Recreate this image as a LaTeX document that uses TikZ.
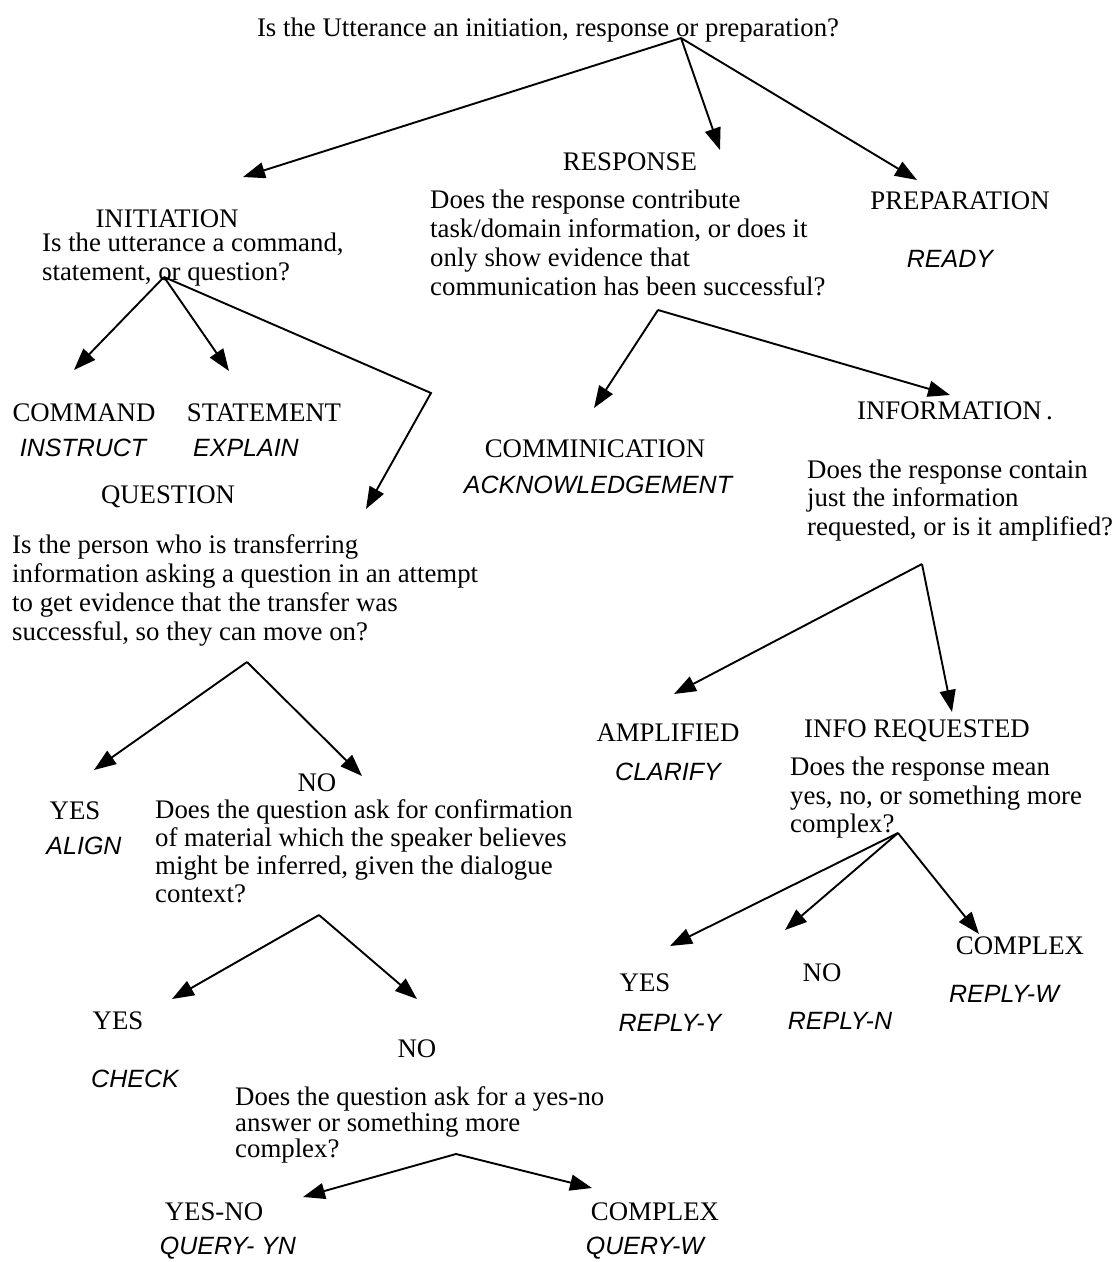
\documentclass[tikz,border=0pt]{standalone}
\usepackage{fontspec}
\setmainfont{Liberation Serif}
\setsansfont{Liberation Sans}
\usepackage{tikz}
\usetikzlibrary{positioning,arrows.meta}

\begin{document}
\begin{tikzpicture}[x=1pt,y=-1pt,>={Triangle[length=22pt,width=16pt]},
  every node/.style={inner sep=0pt},
  cat/.style={anchor=base,font=\fontsize{26.8}{28}\selectfont},
  act/.style={anchor=base,font=\sffamily\itshape\fontsize{25}{28}\selectfont},
  ques/.style={anchor=north west,align=left,font=\fontsize{26.8}{28.5}\selectfont},
  arr/.style={->,line width=1.9pt}]
  \useasboundingbox (0,0) rectangle (1113,1262);
  % top question
  \node[cat] (top) at (548,36) {Is the Utterance an initiation, response or preparation?};
  \node[cat] (init) at (167,227) {INITIATION};
  \node[cat] (resp) at (630,170) {RESPONSE};
  \node[cat] (prep) at (960,209) {PREPARATION};
  \node[act] (ready) at (950,267) {READY};
  \node[ques,font=\fontsize{26.8}{29}\selectfont] (qinit) at (42,233) {Is the utterance a command,\\statement, or question?};
  \node[ques,font=\fontsize{26.8}{29}\selectfont] (qresp) at (430,189.5) {Does the response contribute\\task/domain information, or does it\\only show evidence that\\communication has been successful?};
  % initiation branch
  \node[cat] (cmd) at (84,421) {COMMAND}; \node[act] (instr) at (83,456) {INSTRUCT};
  \node[cat] (stmt) at (264,421) {STATEMENT}; \node[act] (expl) at (246,456) {EXPLAIN};
  \node[cat] (quest) at (168,503) {QUESTION};
  \node[ques,font=\fontsize{26.8}{29}\selectfont] (qtrans) at (12,534.5) {Is the person who is transferring\\information asking a question in an attempt\\to get evidence that the transfer was\\successful, so they can move on?};
  \node[cat] (yes1) at (75,819) {YES}; \node[act] (align) at (84,854) {ALIGN};
  \node[cat] (no1) at (317,791) {NO};
  \node[ques,font=\fontsize{26.8}{28}\selectfont] (qconf) at (155,799.5) {Does the question ask for confirmation\\of material which the speaker believes\\might be inferred, given the dialogue\\context?};
  \node[cat] (yes2) at (118,1029) {YES}; \node[act] (check) at (135,1087) {CHECK};
  \node[cat] (no2) at (417,1057) {NO};
  \node[ques,font=\fontsize{26.8}{26}\selectfont] (qyn) at (235,1086.5) {Does the question ask for a yes-no\\answer or something more\\complex?};
  \node[cat] (yesno) at (214,1220) {YES-NO}; \node[act] (qryn) at (228,1254) {QUERY- YN};
  \node[cat] (cplx1) at (655,1220) {COMPLEX}; \node[act] (qryw) at (645,1254) {QUERY-W};
  % response branch
  \node[cat] (comm) at (595,457) {COMMINICATION}; \node[act] (ack) at (598,493) {ACKNOWLEDGEMENT};
  \node[cat] (info) at (955,419) {INFORMATION\,.};
  \node[ques] (qinfo) at (807,459.5) {Does the response contain\\just the information\\requested, or is it amplified?};
  \node[cat] (ampl) at (668,741) {AMPLIFIED}; \node[act] (clar) at (668,780) {CLARIFY};
  \node[cat] (inforeq) at (917,737) {INFO REQUESTED};
  \node[ques] (qmean) at (790,757) {Does the response mean\\yes, no, or something more\\complex?};
  \node[cat] (yes3) at (645,991) {YES}; \node[act] (rply) at (670,1031) {REPLY-Y};
  \node[cat] (no3) at (822,981) {NO}; \node[act] (rpln) at (840,1029) {REPLY-N};
  \node[cat] (cplx2) at (1020,954) {COMPLEX}; \node[act] (rplw) at (1004,1002) {REPLY-W};
  % branch points and arrow ends
  \coordinate (a0) at (681,38); \coordinate (a1) at (164,277); \coordinate (a2) at (247,662);
  \coordinate (a3) at (319,915); \coordinate (a4) at (456,1154); \coordinate (a5) at (658,310);
  \coordinate (a6) at (922,564); \coordinate (a7) at (898,833); \coordinate (bend) at (431,393);
  \coordinate (t-init) at (243,177); \coordinate (t-resp) at (720,150); \coordinate (t-prep) at (917,180);
  \coordinate (t-cmd) at (74,370); \coordinate (t-stmt) at (229,371); \coordinate (t-quest) at (366,509);
  \coordinate (t-yes1) at (94,770); \coordinate (t-no1) at (362,776);
  \coordinate (t-yes2) at (172,999); \coordinate (t-no2) at (417,999);
  \coordinate (t-yesno) at (303,1197); \coordinate (t-cplx1) at (592,1188);
  \coordinate (t-comm) at (594,408); \coordinate (t-info) at (950,395);
  \coordinate (t-ampl) at (674,694); \coordinate (t-inforeq) at (952,712);
  \coordinate (t-yes3) at (670,946); \coordinate (t-no3) at (785,930); \coordinate (t-cplx2) at (979,934);
  \foreach \a/\b in {a0/init,a0/resp,a0/prep,a1/cmd,a1/stmt,a2/yes1,a2/no1,a3/yes2,a3/no2,a4/yesno,a4/cplx1,
    a5/comm,a5/info,a6/ampl,a6/inforeq,a7/yes3,a7/no3,a7/cplx2}
    \draw[arr] (\a) -- (t-\b);
  \draw[arr] (a1) -- (bend) -- (t-quest);
\end{tikzpicture}
\end{document}
